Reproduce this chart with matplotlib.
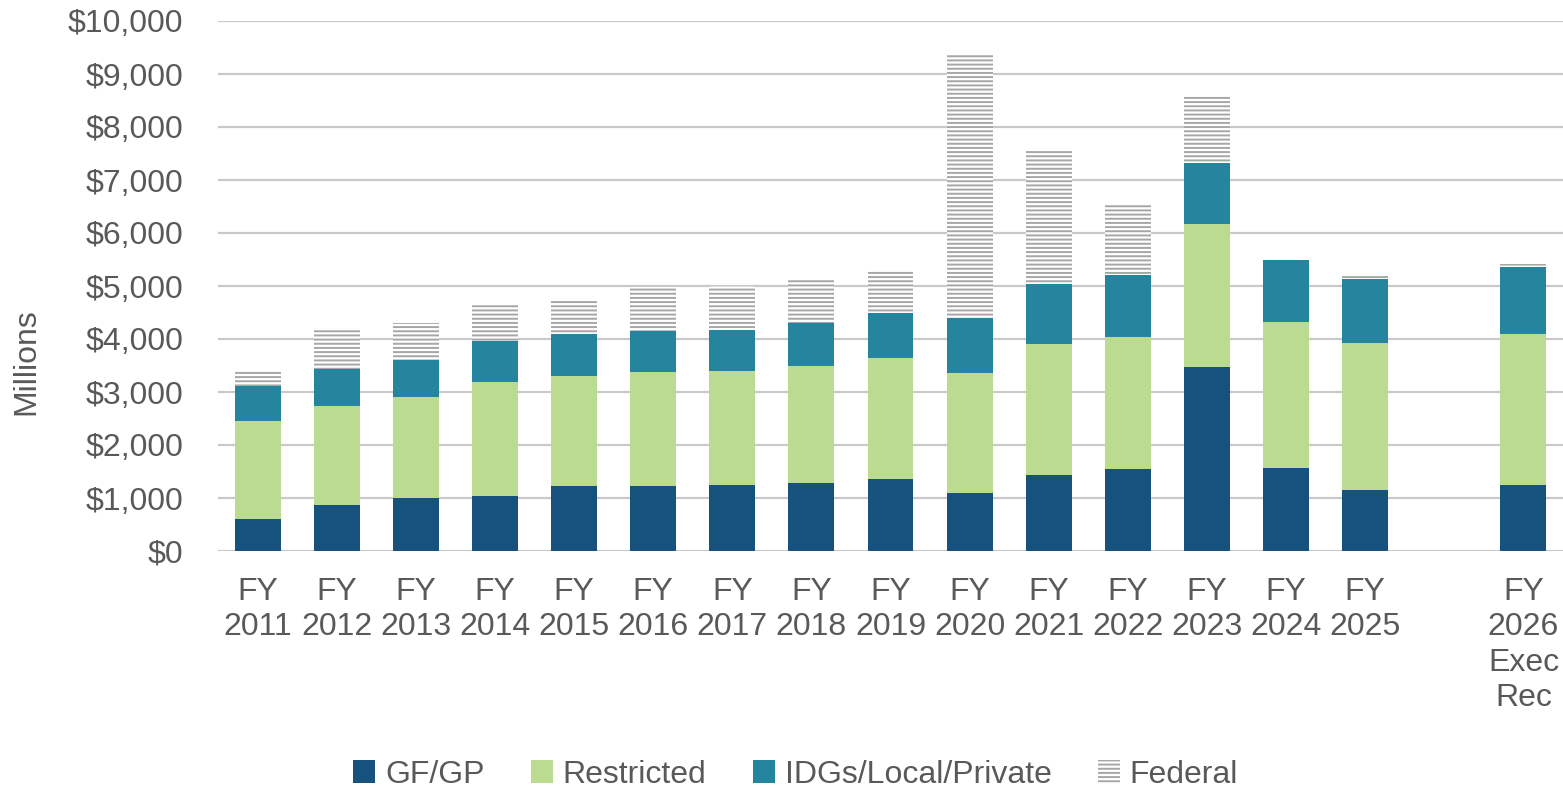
import numpy as np
import matplotlib.pyplot as plt
from matplotlib.patches import Patch

# Data (millions of dollars)
labels = ['FY\n2011', 'FY\n2012', 'FY\n2013', 'FY\n2014', 'FY\n2015', 'FY\n2016',
          'FY\n2017', 'FY\n2018', 'FY\n2019', 'FY\n2020', 'FY\n2021', 'FY\n2022',
          'FY\n2023', 'FY\n2024', 'FY\n2025', 'FY\n2026\nExec\nRec']
gf_gp      = [610, 870, 1000, 1040, 1230, 1230, 1240, 1280, 1350, 1100, 1440, 1550, 3480, 1570, 1160, 1250]
restricted = [1850, 1870, 1910, 2150, 2080, 2150, 2160, 2210, 2300, 2260, 2470, 2490, 2690, 2760, 2760, 2840]
idgs       = [650, 700, 700, 770, 780, 770, 770, 810, 840, 1040, 1130, 1170, 1150, 1170, 1220, 1270]
federal    = [290, 770, 690, 700, 660, 840, 830, 830, 790, 4960, 2510, 1340, 1280, 0, 50, 50]

# position 15 left empty before the FY 2026 bar
x = np.array(list(range(15)) + [16])

text_col = '#595959'
c_gf = '#17527e'
c_res = '#bbdb91'
c_idg = '#25849e'
c_fed = '#a6a6a6'
fs = 23

plt.rcParams['font.family'] = ['Liberation Sans', 'DejaVu Sans']
plt.rcParams['hatch.linewidth'] = 1.4
plt.rcParams['hatch.color'] = c_fed

fig = plt.figure(figsize=(15.63, 7.89), dpi=100)
ax = fig.add_axes([218 / 1563, 1 - 551 / 789, 1 - 218 / 1563, (551 - 21) / 789])

w = 0.58
gf = np.array(gf_gp)
res = np.array(restricted)
idg = np.array(idgs)
fed = np.array(federal)

ax.bar(x, gf, w, color=c_gf, zorder=3)
ax.bar(x, res, w, bottom=gf, color=c_res, zorder=3)
ax.bar(x, idg, w, bottom=gf + res, color=c_idg, zorder=3)
ax.bar(x, fed, w, bottom=gf + res + idg, facecolor='white', edgecolor=c_fed,
       linewidth=0, hatch='----', zorder=3)

ax.set_xlim(-0.5, 16.5)
ax.set_ylim(0, 10000)
ax.set_yticks(np.arange(0, 10001, 1000))
ax.set_yticklabels(['${:,.0f}'.format(v) for v in np.arange(0, 10001, 1000)])
ax.set_xticks(x)
ax.set_xticklabels(labels, va='top', ha='center', linespacing=1.22)

ax.yaxis.grid(True, color='#c9c9c9', linewidth=1.6, zorder=0)
ax.set_axisbelow(True)
for s in ax.spines.values():
    s.set_visible(False)
ax.tick_params(axis='both', length=0, labelsize=fs, colors=text_col)
ax.tick_params(axis='y', pad=25)
ax.tick_params(axis='x', pad=19)
ax.set_ylabel('Millions', fontsize=fs, color=text_col)
ax.yaxis.set_label_coords(-0.131, 0.357)

handles = [Patch(facecolor=c_gf, label='GF/GP'),
           Patch(facecolor=c_res, label='Restricted'),
           Patch(facecolor=c_idg, label='IDGs/Local/Private'),
           Patch(facecolor='white', edgecolor=c_fed, linewidth=0, hatch='----', label='Federal')]
leg = fig.legend(handles=handles, loc='center', bbox_to_anchor=(0.509, 0.018), ncol=4,
                 frameon=False, fontsize=fs, handlelength=0.7, handleheight=0.7,
                 handletextpad=0.3, columnspacing=1.45)
for t in leg.get_texts():
    t.set_color(text_col)

fig.savefig('out.png', dpi=100)
